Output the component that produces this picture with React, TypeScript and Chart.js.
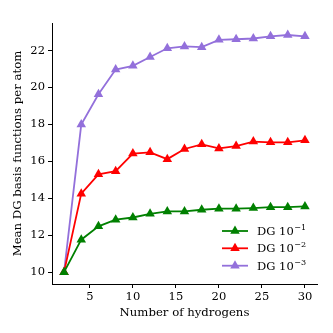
import React, { useEffect, useRef } from "react";
import { Chart, registerables } from "chart.js";

Chart.register(...registerables);

const hydrogens = [2, 4, 6, 8, 10, 12, 14, 16, 18, 20, 22, 24, 26, 28, 30];
const dg1 = [10, 11.76, 12.48, 12.84, 12.96, 13.16, 13.29, 13.29, 13.38, 13.44, 13.44, 13.47, 13.52, 13.52, 13.56];
const dg2 = [10, 14.25, 15.3, 15.47, 16.42, 16.49, 16.12, 16.67, 16.92, 16.7, 16.83, 17.07, 17.03, 17.03, 17.14];
const dg3 = [10, 17.99, 19.63, 20.97, 21.17, 21.65, 22.12, 22.22, 22.18, 22.58, 22.61, 22.65, 22.77, 22.84, 22.77];

const seriesNames = ["DG 10", "DG 10", "DG 10"];
const seriesExponents = ["\u22121", "\u22122", "\u22123"];
const seriesColors = ["#008000", "#ff0000", "#9370db"];

const xTicks = [5, 10, 15, 20, 25, 30];
const yTicks = [10, 12, 14, 16, 18, 20, 22];
const xRange = [0.6, 31.4];
const yRange = [9.36, 23.49];

const xTitle = "Number of hydrogens";
const yTitle = "Mean DG basis functions per atom";

const FONT = "'DejaVu Serif', serif";
const TICK_SIZE = 11.5;
const TITLE_SIZE = 11.7;
const POINT_R = 5.5;

const legendPlugin = {
  id: "serifLegend",
  afterDraw(chart: any) {
    const ctx = chart.ctx as CanvasRenderingContext2D;
    const area = chart.chartArea;
    const rowOffsets = [53, 35.7, 18.3];
    chart.data.datasets.forEach((ds: any, i: number) => {
      const y = area.bottom - rowOffsets[i];
      const x0 = area.right - 95;
      const x1 = area.right - 69;
      const xm = (x0 + x1) / 2;
      ctx.save();
      ctx.strokeStyle = ds.borderColor;
      ctx.lineWidth = ds.borderWidth;
      ctx.beginPath();
      ctx.moveTo(x0, y);
      ctx.lineTo(x1, y);
      ctx.stroke();
      const r = POINT_R;
      ctx.fillStyle = ds.pointBackgroundColor;
      ctx.beginPath();
      ctx.moveTo(xm, y - r);
      ctx.lineTo(xm + 0.866 * r, y + 0.5 * r);
      ctx.lineTo(xm - 0.866 * r, y + 0.5 * r);
      ctx.closePath();
      ctx.fill();
      ctx.fillStyle = "#000";
      ctx.textBaseline = "middle";
      ctx.textAlign = "left";
      ctx.font = `${TICK_SIZE}px ${FONT}`;
      const tx = area.right - 60;
      const base = seriesNames[i];
      ctx.fillText(base, tx, y + 1);
      const w = ctx.measureText(base).width;
      ctx.font = `${TICK_SIZE * 0.7}px ${FONT}`;
      ctx.fillText(seriesExponents[i], tx + w + 0.5, y - 3);
      ctx.restore();
    });
  },
};

export default function App() {
  const ref = useRef<HTMLCanvasElement>(null);
  useEffect(() => {
    if (!ref.current) return;
    const mk = (vals: number[], i: number) => ({
      label: seriesNames[i] + seriesExponents[i],
      data: hydrogens.map((h, k) => ({ x: h, y: vals[k] })),
      borderColor: seriesColors[i],
      backgroundColor: seriesColors[i],
      pointBackgroundColor: seriesColors[i],
      pointBorderColor: seriesColors[i],
      pointBorderWidth: 0,
      borderWidth: 1.8,
      pointStyle: "triangle",
      pointRadius: POINT_R,
      tension: 0,
    });
    const chart = new Chart(ref.current, {
      type: "line",
      data: { datasets: [mk(dg1, 0), mk(dg2, 1), mk(dg3, 2)] },
      options: {
        animation: false,
        responsive: false,
        layout: { padding: { top: 23, right: 16, left: 0, bottom: 0 } },
        plugins: { legend: { display: false }, tooltip: { enabled: false } },
        scales: {
          x: {
            type: "linear",
            min: xRange[0],
            max: xRange[1],
            afterBuildTicks: (s: any) => {
              s.ticks = xTicks.map((v) => ({ value: v }));
            },
            afterFit: (s: any) => {
              s.height = 49;
            },
            border: { display: true, color: "#000", width: 1 },
            grid: { drawOnChartArea: false, drawTicks: true, tickLength: 4, color: "#000" },
            ticks: { color: "#000", padding: 2, maxRotation: 0, font: { family: FONT, size: TICK_SIZE } },
            title: {
              display: true,
              text: xTitle,
              color: "#000",
              font: { family: FONT, size: TITLE_SIZE },
              padding: { top: 0, bottom: 13 },
            },
          },
          y: {
            type: "linear",
            min: yRange[0],
            max: yRange[1],
            afterBuildTicks: (s: any) => {
              s.ticks = yTicks.map((v) => ({ value: v }));
            },
            afterFit: (s: any) => {
              s.width = 52;
            },
            border: { display: true, color: "#000", width: 1 },
            grid: { drawOnChartArea: false, drawTicks: true, tickLength: 4, color: "#000" },
            ticks: { color: "#000", padding: 3, font: { family: FONT, size: TICK_SIZE } },
            title: {
              display: true,
              text: yTitle,
              color: "#000",
              font: { family: FONT, size: TITLE_SIZE },
              padding: { top: 11, bottom: 0 },
            },
          },
        },
      },
      plugins: [legendPlugin],
    } as any);
    return () => chart.destroy();
  }, []);
  return (
    <div style={{ position: "absolute", left: 0, top: 0, width: 333, height: 333 }}>
      <canvas ref={ref} width={333} height={333} />
    </div>
  );
}
